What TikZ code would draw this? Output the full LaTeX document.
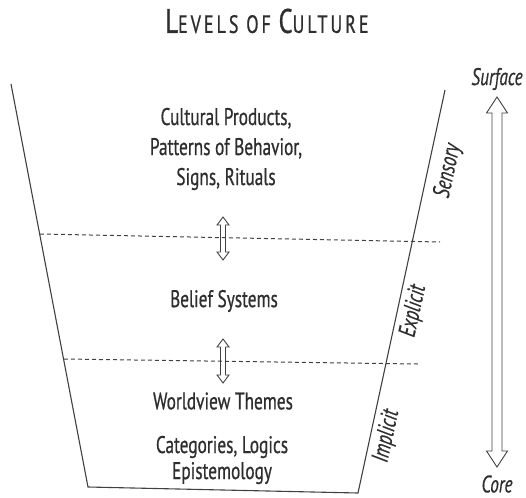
\documentclass[tikz,border=0pt]{standalone}
\usepackage{fontspec}
\setmainfont{PT Sans}[FakeStretch=0.72]
\usetikzlibrary{calc}

% hollow two-headed arrow: x, top, bottom, shaft half, head half, head length
\newcommand\dblarrow[6]{%
  \draw[arrowline] (#1-#4,#2+#6) -- (#1-#5,#2+#6) -- (#1,#2) -- (#1+#5,#2+#6)
    -- (#1+#4,#2+#6) -- (#1+#4,#3-#6) -- (#1+#5,#3-#6) -- (#1,#3)
    -- (#1-#5,#3-#6) -- (#1-#4,#3-#6) -- cycle;}

\begin{document}
\begin{tikzpicture}[x=1pt,y=-1pt]
  \tikzstyle{every node}=[text=black!82]
  \tikzstyle{level}=[align=center,font=\fontsize{24}{30}\selectfont\addfontfeatures{FakeBold=0.7}]
  \tikzstyle{side}=[inner sep=1pt,font=\fontsize{24}{24}\selectfont\itshape\addfontfeatures{FakeBold=0.5}]
  \tikzstyle{wall}=[side,rotate=77.8,anchor=north,inner sep=5pt]
  \tikzstyle{arrowline}=[draw=black!75,line width=0.9pt,line join=miter]
  \useasboundingbox (0,0) rectangle (526,497);

  % title
  \node (title) at (267,21) {\addfontfeatures{LetterSpace=12,FakeBold=0.8}%
    \fontsize{34}{34}\selectfont L\fontsize{25}{25}\selectfont EVELS
    OF \fontsize{34}{34}\selectfont C\fontsize{25}{25}\selectfont ULTURE};

  % the cup
  \coordinate (tl) at (11,84);
  \coordinate (bl) at (88,487);
  \coordinate (br) at (358,493);
  \coordinate (tr) at (445,90);
  \draw[black!75,line width=1.1pt] (tl) -- (bl) -- (br) -- (tr);

  \coordinate (d1a) at (40,234);
  \coordinate (d1b) at (440,242);
  \coordinate (d2a) at (64,359);
  \coordinate (d2b) at (418,364);
  \draw[black!75,line width=1pt,dash pattern=on 4pt off 3pt] (d1a) -- (d1b);
  \draw[black!75,line width=1pt,dash pattern=on 4pt off 3pt] (d2a) -- (d2b);

  % levels
  \node[level] (products) at (226,149)
    {Cultural Products,\\Patterns of Behavior,\\Signs, Rituals};
  \node[level] (belief) at (224,301) {Belief Systems};
  \node[level] (world) at (223,401) {Worldview Themes};
  \node[level,font=\fontsize{24}{26}\selectfont\addfontfeatures{FakeBold=0.7}] (logics) at (222,460)
    {Categories, Logics\\Epistemology};

  \dblarrow{223}{217}{260}{2.5}{6}{8}
  \dblarrow{223}{339}{383}{2.5}{6}{8}

  % side labels, just outside the right wall
  \node[wall,inner sep=9pt] (sensory) at ($(br)!0.81!(tr)$) {Sensory};
  \node[wall] (explicit) at ($(br)!0.46!(tr)$) {Explicit};
  \node[wall] (implicit) at ($(br)!0.15!(tr)$) {Implicit};

  \node[side] (surface) at (497,79) {Surface};
  \node[side] (core) at (497,484) {Core};
  \dblarrow{497}{97}{467}{5}{10.5}{16}
\end{tikzpicture}
\end{document}
